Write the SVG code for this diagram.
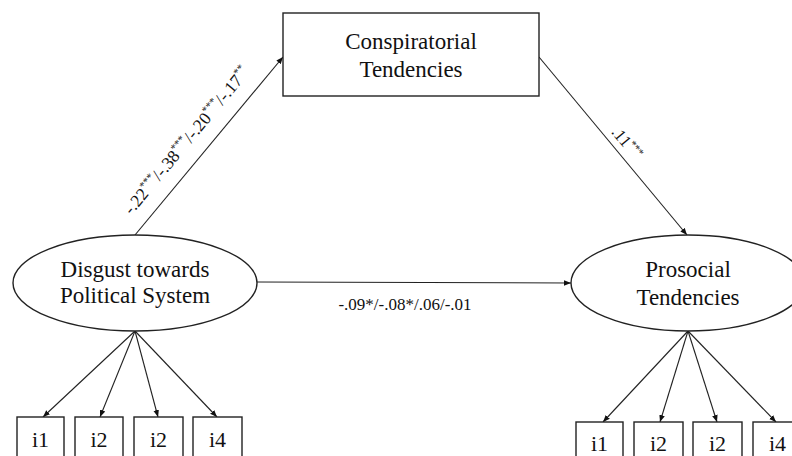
<svg xmlns="http://www.w3.org/2000/svg" width="792" height="456" viewBox="0 0 792 456" font-family="'Liberation Serif', 'DejaVu Serif', serif">
<defs>
<marker id="arr" viewBox="0 0 10 10" refX="10" refY="5" markerWidth="7" markerHeight="7" markerUnits="userSpaceOnUse" orient="auto">
<path d="M0,1 L10,5 L0,9 Z" fill="#111"/>
</marker>
</defs>
<style>
text{font-family:'Liberation Serif','DejaVu Serif',serif;fill:#111}
.lbl{font-size:23px;text-anchor:middle}
.item{font-size:22px;text-anchor:middle}
.coef{font-size:17px}
.sup{font-size:11px}
.shape{fill:#fff;stroke:#222;stroke-width:1.4}
.conn line{stroke:#222;stroke-width:1.1;marker-end:url(#arr)}
</style>
<rect width="792" height="456" fill="#fff"/>

<g id="connectors" class="conn">
<line x1="135" y1="235" x2="283" y2="57"/>
<line x1="539" y1="57" x2="687" y2="235"/>
<line x1="257" y1="282" x2="571" y2="283"/>
<line x1="135" y1="331" x2="43" y2="417"/>
<line x1="135" y1="331" x2="100" y2="417"/>
<line x1="135" y1="331" x2="158" y2="417"/>
<line x1="135" y1="331" x2="217" y2="417"/>
<line x1="688" y1="331" x2="603" y2="422"/>
<line x1="688" y1="331" x2="660" y2="422"/>
<line x1="688" y1="331" x2="717" y2="422"/>
<line x1="688" y1="331" x2="776" y2="422"/>
</g>

<g id="edge-labels">
<text class="coef" style="font-size:17.5px" text-anchor="middle" transform="translate(191,144) rotate(-50.3)">-.22<tspan class="sup" dy="-7">***</tspan><tspan dy="7">/-.38</tspan><tspan class="sup" dy="-7">***</tspan><tspan dy="7">/-.20</tspan><tspan class="sup" dy="-7">***</tspan><tspan dy="7">/-.17</tspan><tspan class="sup" dy="-7">**</tspan></text>
<text class="coef" text-anchor="middle" transform="translate(622.5,146.5) rotate(50.3)">.11<tspan class="sup" dy="-6">***</tspan></text>
<text class="coef" x="405" y="310" text-anchor="middle">-.09*/-.08*/.06/-.01</text>
</g>

<g id="conspiratorial">
<rect class="shape" x="283" y="13" width="256" height="83"/>
<text class="lbl" x="411" y="49">Conspiratorial</text>
<text class="lbl" x="411" y="77">Tendencies</text>
</g>

<g id="disgust">
<ellipse class="shape" cx="135" cy="283" rx="122" ry="48"/>
<text class="lbl" x="135" y="277">Disgust towards</text>
<text class="lbl" x="135" y="303">Political System</text>
</g>

<g id="prosocial">
<ellipse class="shape" cx="688" cy="283" rx="117" ry="48"/>
<text class="lbl" x="688" y="277">Prosocial</text>
<text class="lbl" x="688" y="305">Tendencies</text>
</g>

<g id="left-i1"><rect class="shape" x="17" y="417" width="47" height="42"/><text class="item" x="40.5" y="447">i1</text></g>
<g id="left-i2a"><rect class="shape" x="75" y="417" width="48" height="42"/><text class="item" x="99" y="447">i2</text></g>
<g id="left-i2b"><rect class="shape" x="134" y="417" width="49" height="42"/><text class="item" x="158.5" y="447">i2</text></g>
<g id="left-i4"><rect class="shape" x="193" y="417" width="49" height="42"/><text class="item" x="217.5" y="447">i4</text></g>

<g id="right-i1"><rect class="shape" x="576" y="422" width="47" height="42"/><text class="item" x="599.5" y="451">i1</text></g>
<g id="right-i2a"><rect class="shape" x="634" y="422" width="49" height="42"/><text class="item" x="658.5" y="451">i2</text></g>
<g id="right-i2b"><rect class="shape" x="693" y="422" width="49" height="42"/><text class="item" x="717.5" y="451">i2</text></g>
<g id="right-i4"><rect class="shape" x="753" y="422" width="49" height="42"/><text class="item" x="777.5" y="451">i4</text></g>
</svg>
